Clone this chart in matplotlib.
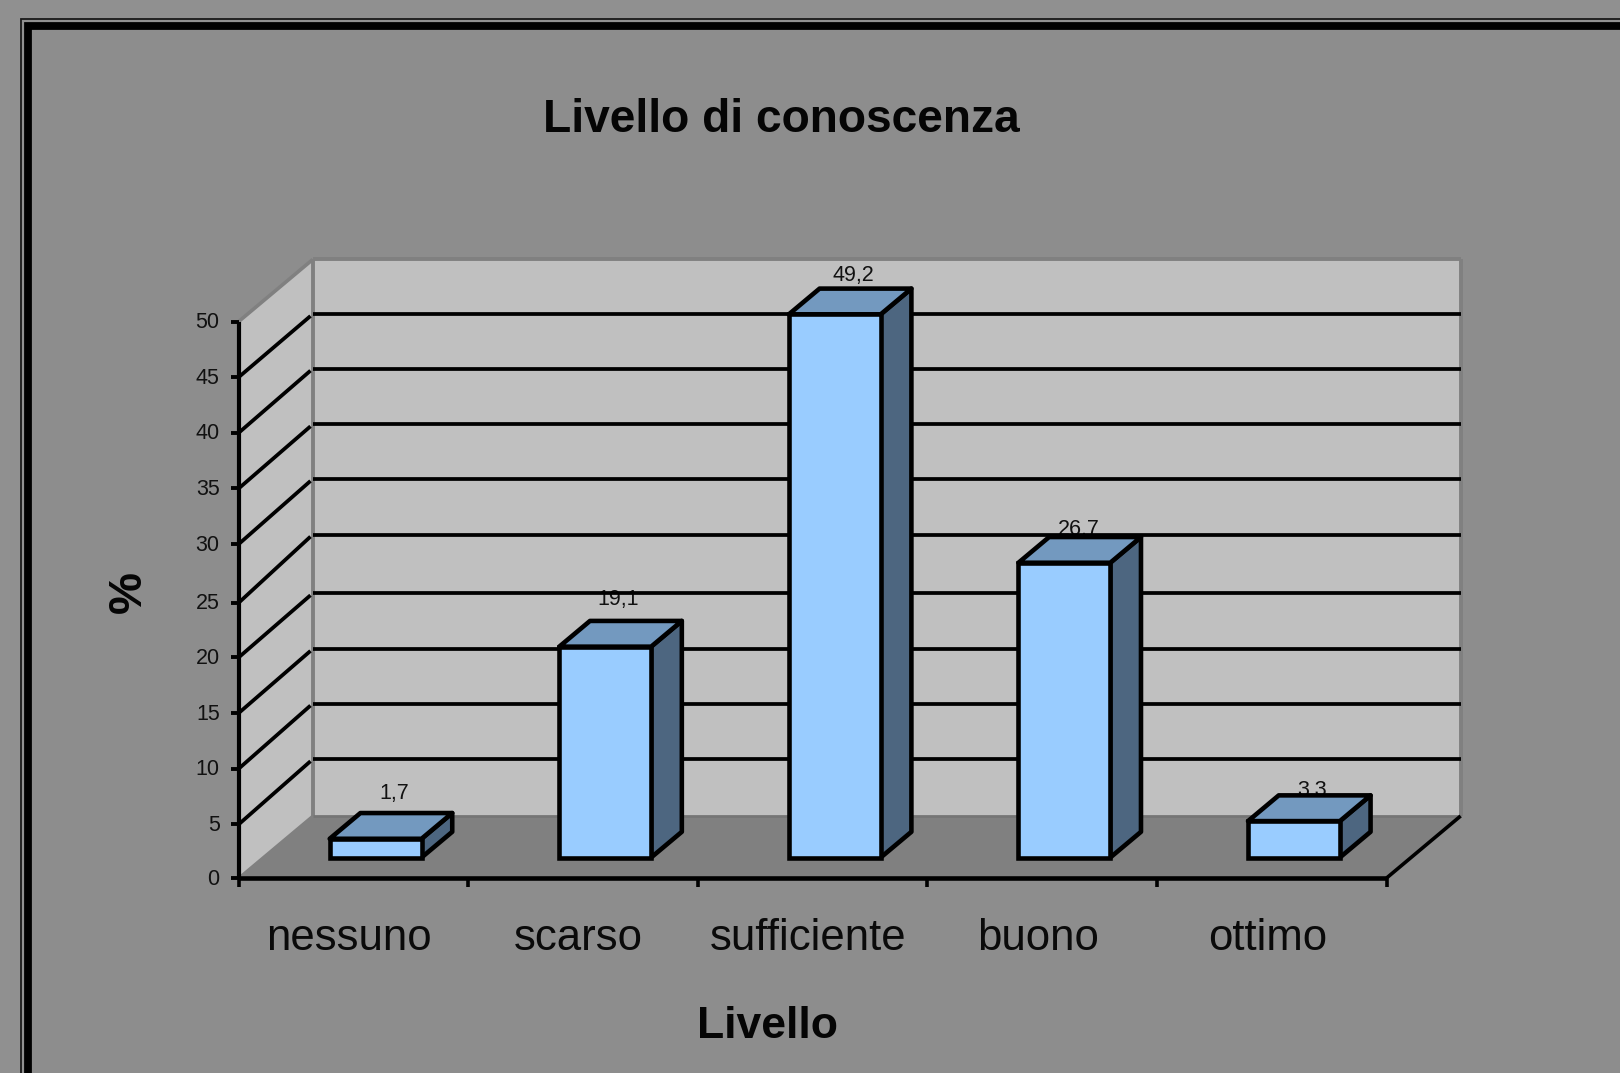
import matplotlib
matplotlib.use("Agg")
import matplotlib.pyplot as plt
from matplotlib.patches import Polygon, Rectangle

plt.rcParams['font.family'] = ['Liberation Sans', 'DejaVu Sans']

# --- data ---
categories = ["nessuno", "scarso", "sufficiente", "buono", "ottimo"]
values = [1.7, 19.1, 49.2, 26.7, 3.3]
value_labels = ["1,7", "19,1", "49,2", "26,7", "3,3"]
y_ticks = [0, 5, 10, 15, 20, 25, 30, 35, 40, 45, 50]
title = "Livello di conoscenza"
x_title = "Livello"
y_title = "%"

# --- layout ---
W, H = 1620, 1073
AX_L, AX_R, AX_B, AX_T = 238.7, 1386.6, 878.0, 321.5   # pixels from top-left
DEPTH_PX = (74.0, 62.0)
BAR_W = 0.4
BAR_SHIFT = -0.01
BAR_FRONT, BAR_BACK = 0.33, 0.745
BAR_SCALE = 0.992
LW_BAR = 3.3
LW_GRID = 2.7
label_offsets = [(19, 45), (13, 47), (19, 39), (14, 33), (18, 31)]
# pixel-snapping of the original renderer, per tick level (pixels, + = down)
front_snap = [0, 2, 2, 2, 2, 3, 0, 0, 0, 0, 0]
back_snap = [0, -1, -1, 0, 0, -3, -3, -2, -2, -1, 0]

fig = plt.figure(figsize=(W / 100, H / 100), dpi=100, facecolor="#909090")
ax = fig.add_axes([AX_L / W, 1 - AX_B / H, (AX_R - AX_L) / W, (AX_B - AX_T) / H])
ax.set_xlim(0, len(categories))
ax.set_ylim(0, 50)
ax.axis("off")

DX = DEPTH_PX[0] / ((AX_R - AX_L) / len(categories))
PX_Y = (AX_B - AX_T) / 50
DY = DEPTH_PX[1] / PX_Y


def P(x, y, d=0.0):
    return (x + d * DX, y + d * DY)


def poly(pts, fc, ec="none", lw=0, z=1, join="miter"):
    ax.add_patch(Polygon(pts, closed=True, fc=fc, ec=ec, lw=lw, zorder=z,
                         clip_on=False, joinstyle=join))


def line(a, b, color="black", lw=LW_GRID, z=3, cap="butt"):
    ax.plot([a[0], b[0]], [a[1], b[1]], color=color, lw=lw, zorder=z,
            clip_on=False, solid_capstyle=cap)


# frame (behind the axes)
fig.add_artist(Rectangle((21 / W, 1 - 1200 / H), 1800 / W, (1200 - 18.5) / H, transform=fig.transFigure,
                         fc="none", ec="#1a1a1a", lw=1.3, zorder=-5))
fig.add_artist(Rectangle((28 / W, 1 - 1200 / H), 1800 / W, (1200 - 25.5) / H, transform=fig.transFigure,
                         fc="#8d8d8d", ec="black", lw=5.6, zorder=-4))

n = len(categories)
# walls and floor
poly([P(0, 0, 1), P(n, 0, 1), P(n, 50, 1), P(0, 50, 1)], "#c0c0c0", z=1)
poly([P(0, 0), P(0, 0, 1), P(0, 50, 1), P(0, 50)], "#c0c0c0", z=1)
poly([P(0, 0), P(n, 0), P(n, 0, 1), P(0, 0, 1)], "#808080", z=1)
# wall edges
line(P(0, 50), P(0, 50, 1), color="#808080", lw=2.6, z=2)
line(P(0, 0, 1), P(0, 50, 1), color="#808080", lw=2.8, z=2)
line(P(0, 50, 1), P(n, 50, 1), color="#808080", lw=2.8, z=2)
line(P(n, 0, 1), P(n, 50, 1), color="#808080", lw=2.8, z=2)
line(P(0, 0, 1), P(n, 0, 1), color="#757575", lw=2.0, z=2)
line(P(0, 0), P(0, 0, 1), color="#808080", lw=2.0, z=2)

# data labels sit behind gridlines
for i, (v, s) in enumerate(zip(values, value_labels)):
    ax.annotate(s, xy=P(i + 0.5 + BAR_SHIFT, v * BAR_SCALE, BAR_FRONT), xycoords="data",
                xytext=(label_offsets[i][0] * 0.72, label_offsets[i][1] * 0.72),
                textcoords="offset points", ha="center", va="center",
                fontsize=15.5, color="#111111", zorder=2.5, annotation_clip=False)

# gridlines
for k, t in enumerate(y_ticks[:-1]):
    yf = t - front_snap[k] / PX_Y
    yb = t - back_snap[k] / PX_Y
    if t > 0:
        a, b = P(0, yf), P(0, yb, 0.97)
        line(a, b)
        line(P(0, yb, 1), P(n, yb, 1))
line(P(n, 0), P(n, 0, 1), lw=2.6, z=3)

# axes and ticks
line(P(0, 0), P(0, 50), lw=3.0, z=6)
line(P(0, 0), P(n, 0), lw=3.3, z=6)
for k, t in enumerate(y_ticks):
    yf = t - front_snap[k] / PX_Y
    line(P(-0.034, yf), P(0, yf), lw=2.8, z=6)
    ax.text(-0.083, yf - 0.1, str(t), ha="right", va="center", fontsize=15.5, color="#111111")
for i in range(n + 1):
    line(P(i, 0), P(i, -0.85), lw=2.6, z=6)
for i, c in enumerate(categories):
    ax.text(i + 0.48, -5.4, c, ha="center", va="center", fontsize=31.5, color="#0a0a0a")

# bars
for i, v in enumerate(values):
    h = v * BAR_SCALE
    x0 = i + 0.5 + BAR_SHIFT - BAR_W / 2
    x1 = i + 0.5 + BAR_SHIFT + BAR_W / 2
    f, b = BAR_FRONT, BAR_BACK
    z = 4 + i * 0.01
    poly([P(x1, 0, f), P(x1, 0, b), P(x1, h, b), P(x1, h, f)], "#4d6680", "black", LW_BAR, z, "round")
    poly([P(x0, h, f), P(x1, h, f), P(x1, h, b), P(x0, h, b)], "#7399bf", "black", LW_BAR, z, "round")
    poly([P(x0, 0, f), P(x1, 0, f), P(x1, h, f), P(x0, h, f)], "#99ccff", "black", LW_BAR, z)

# titles
fig.text(781 / W, 1 - 120 / H, title, ha="center", va="center", fontsize=33.2,
         fontweight="bold", color="#050505")
fig.text(768 / W, 1 - 1026 / H, x_title, ha="center", va="center", fontsize=32,
         fontweight="bold", color="#050505")
fig.text(129 / W, 1 - 592 / H, y_title, ha="center", va="center", rotation=90, fontsize=34,
         fontweight="bold", color="#050505")

fig.savefig("out.png", dpi=100, facecolor=fig.get_facecolor())
